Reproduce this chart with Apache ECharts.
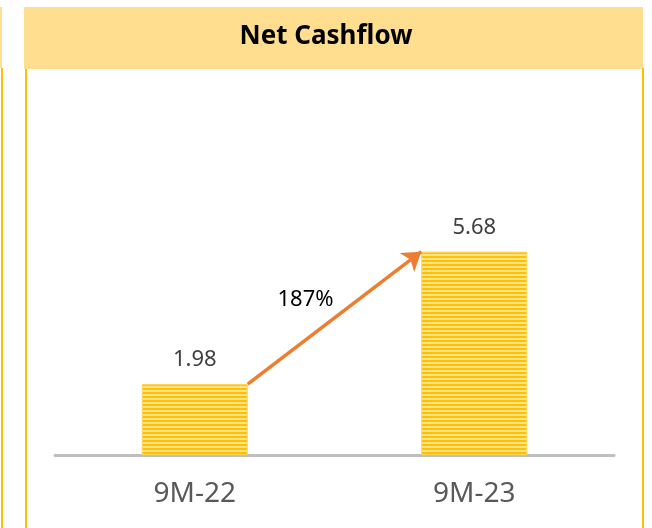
<!DOCTYPE html>
<html>
<head>
    <meta charset="utf-8">
    <title>Net Cashflow</title>
    <script src="https://cdn.jsdelivr.net/npm/echarts@6/dist/echarts.min.js"></script>
    <style>
        html, body { margin: 0; padding: 0; background: #fff; }
        #main { width: 652px; height: 528px; }
    </style>
</head>
<body>
<div id="main"></div>
<script type="text/javascript">
    // data
    var categories = ['9M-22', '9M-23'];
    var values = [1.98, 5.68];
    var growthLabel = '187%';

    // striped fill for the bars
    function stripes() {
        var c = document.createElement('canvas');
        c.width = 4; c.height = 4;
        var g = c.getContext('2d');
        g.fillStyle = '#FFC000';
        g.fillRect(0, 0, 4, 4);
        g.fillStyle = '#FFE38C';
        g.fillRect(0, 2, 4, 2);
        return c;
    }

    var barWidth = 106;
    var myChart = echarts.init(document.getElementById('main'), null, {renderer: 'canvas'});

    var option = {
        backgroundColor: '#fff',
        animation: false,
        grid: {left: 55, right: 38, top: 97, bottom: 73},
        xAxis: {
            type: 'category',
            data: categories,
            axisTick: {show: false},
            axisLine: {lineStyle: {color: '#BFBFBF', width: 3}},
            axisLabel: {
                color: '#595959',
                fontFamily: 'Noto Sans',
                fontSize: 28,
                margin: 25
            }
        },
        yAxis: {
            type: 'value',
            min: 0,
            max: 10,
            show: false,
            splitLine: {show: false}
        },
        graphic: [
            {type: 'rect', shape: {x: 24, y: 7, width: 619, height: 62}, style: {fill: '#FFDF8F'}},
            {type: 'rect', shape: {x: 0, y: 7, width: 2, height: 61}, style: {fill: '#FFDF8F'}},
            {type: 'rect', shape: {x: 1, y: 68, width: 2, height: 460}, style: {fill: '#FFC000'}},
            {type: 'rect', shape: {x: 25, y: 69, width: 2, height: 459}, style: {fill: '#FFC000'}},
            {type: 'rect', shape: {x: 642, y: 68, width: 2, height: 460}, style: {fill: '#FFC000'}},
            {
                type: 'text', left: 'center', top: 24,
                style: {
                    text: 'Net Cashflow', fill: '#000',
                    font: 'bold 26px "Noto Sans"'
                }
            }
        ],
        series: [{
            type: 'bar',
            data: values,
            barWidth: barWidth,
            itemStyle: {
                color: {image: stripes(), repeat: 'repeat'},
                borderColor: '#FFD54F',
                borderWidth: 1
            },
            label: {
                show: true,
                position: 'top',
                distance: 13,
                color: '#404040',
                fontFamily: 'Noto Sans',
                fontSize: 22
            }
        }]
    };
    myChart.setOption(option);

    // arrow from top-right of first bar to top-left of second bar
    var x0 = myChart.convertToPixel({xAxisIndex: 0}, categories[0]) + barWidth / 2;
    var y0 = myChart.convertToPixel({yAxisIndex: 0}, values[0]);
    var x1 = myChart.convertToPixel({xAxisIndex: 0}, categories[1]) - barWidth / 2;
    var y1 = myChart.convertToPixel({yAxisIndex: 0}, values[1]);

    myChart.setOption({
        series: [{
            markLine: {
                silent: true,
                symbol: ['none', 'arrow'],
                symbolSize: 18,
                label: {show: false},
                lineStyle: {color: '#ED7D31', width: 3.5, type: 'solid'},
                data: [[{x: x0, y: y0}, {x: x1, y: y1}]]
            }
        }],
        graphic: option.graphic.concat([{
            type: 'text',
            x: (x0 + x1) / 2 - 29,
            y: (y0 + y1) / 2 - 18,
            style: {
                text: growthLabel, fill: '#000',
                font: '22px "Noto Sans"',
                align: 'center', verticalAlign: 'middle'
            }
        }])
    });
</script>
</body>
</html>
